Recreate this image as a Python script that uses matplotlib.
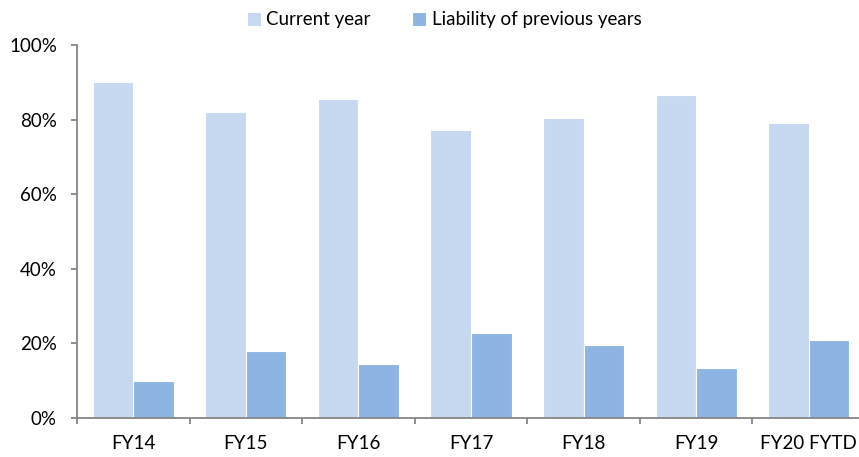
import matplotlib
matplotlib.use("Agg")
import matplotlib.pyplot as plt
from matplotlib.ticker import FixedLocator, FuncFormatter
import numpy as np

categories = ["FY14", "FY15", "FY16", "FY17", "FY18", "FY19", "FY20 FYTD"]
current_year = [90.0, 82.0, 85.4, 77.3, 80.4, 86.7, 79.0]
previous_years = [10.0, 18.0, 14.6, 22.7, 19.6, 13.3, 21.0]
series_names = ["Current year", "Liability of previous years"]
y_ticks = [0, 20, 40, 60, 80, 100]

plt.rcParams["font.family"] = ["Lato", "DejaVu Sans"]

W, H = 859, 457
fig = plt.figure(figsize=(W / 100, H / 100), dpi=100)
ax = fig.add_axes([77 / W, (H - 418) / H, (865 - 77) / W, (418 - 45) / H])

x = np.arange(len(categories))
bw = 0.36
axis_grey = "#868686"
ax.bar(x - bw / 2, current_year, bw, color="#C6D9F1", edgecolor="white",
       linewidth=0.8, label=series_names[0], zorder=2)
ax.bar(x + bw / 2, previous_years, bw, color="#8EB4E3", edgecolor="white",
       linewidth=0.8, label=series_names[1], zorder=2)

ax.set_xlim(-0.5, len(categories) - 0.5)
ax.set_ylim(0, 100)

for s in ("top", "right"):
    ax.spines[s].set_visible(False)
for s in ("left", "bottom"):
    ax.spines[s].set_color(axis_grey)
    ax.spines[s].set_linewidth(1.3)
    ax.spines[s].set_zorder(3)

fs = 13.5
ax.set_yticks(y_ticks)
ax.yaxis.set_major_formatter(FuncFormatter(lambda v, p: f"{v:.0f}%"))
ax.tick_params(axis="y", direction="out", length=4.5, width=1.3,
               color=axis_grey, pad=10, labelsize=fs, labelcolor="black")

ax.set_xticks(x)
ax.set_xticklabels(categories)
ax.xaxis.set_minor_locator(FixedLocator(np.arange(-0.5, len(categories), 1.0)))
ax.tick_params(axis="x", which="major", length=0, pad=12, labelsize=fs,
               labelcolor="black")
ax.tick_params(axis="x", which="minor", direction="out", length=4.5,
               width=1.3, color=axis_grey)

leg = fig.legend(loc="center", bbox_to_anchor=(444 / W, 1 - 20 / H), ncol=2,
                 frameon=False, fontsize=fs, handlelength=0.75,
                 handleheight=0.75, handletextpad=0.3, columnspacing=2.2,
                 borderaxespad=0)

fig.savefig("out.png", dpi=100)
